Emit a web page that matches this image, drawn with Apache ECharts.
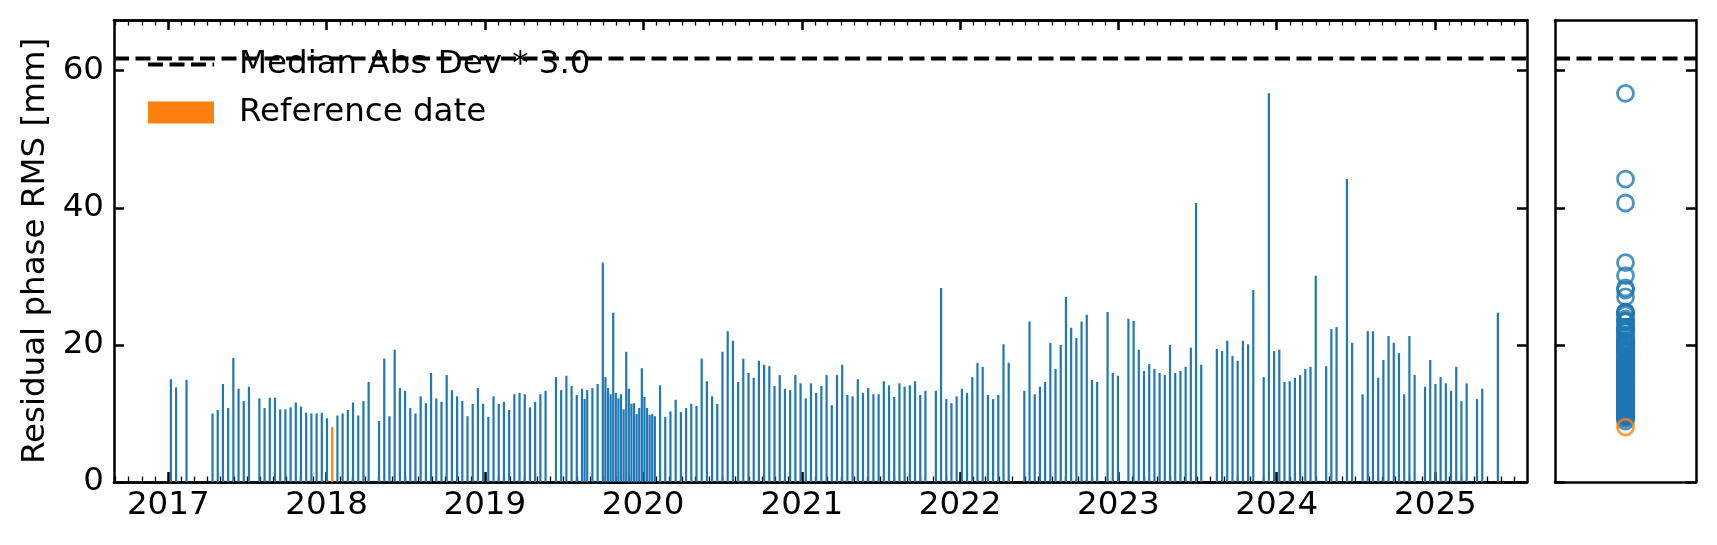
<!DOCTYPE html>
<html>
<head>
<meta charset="utf-8">
<script src="https://cdn.jsdelivr.net/npm/echarts@6/dist/echarts.min.js"></script>
<style>
html,body{margin:0;padding:0;background:#fff;}
#chart{width:1717px;height:545px;}
</style>
</head>
<body>
<div id="chart"></div>
<script>
// Acquisition dates, as days since 2017-01-01
const acqDays = [6,18,42,102,114,126,138,150,162,174,186,210,222,234,246,258,270,282,294,306,318,330,342,354,366,390,402,414,426,438,
450,462,486,498,510,522,534,546,558,570,582,594,606,618,630,642,654,666,678,690,702,714,726,738,750,762,774,786,798,810,822,834,846,858,870,
894,906,918,930,942,954,960,966,978,990,1002,1008,1014,1020,1026,1032,1038,1044,1050,1056,1062,1068,1074,1080,1086,1092,1098,1104,1110,1116,1122,
1134,1146,1158,1170,1182,1194,1206,1218,1230,1242,1254,1266,1278,1290,1302,1314,1326,1338,1350,1362,1374,1386,1398,1410,1422,1434,1446,1458,1470,
1482,1494,1506,1518,1530,1542,1554,1566,1578,1590,1602,1614,1626,1638,1650,1662,1674,1686,1698,1710,1722,1734,1746,1770,1782,1794,1806,1818,1830,
1842,1854,1866,1878,1890,1902,1914,1926,1938,1974,1986,1998,2010,2022,2034,2046,2058,2070,2082,2094,2106,2118,2130,2142,2166,2178,2190,2214,2226,
2238,2250,2262,2274,2286,2298,2310,2322,2334,2346,2358,2370,2382,2418,2430,2442,2454,2466,2478,2490,2502,2526,2538,2550,2562,2574,2586,2598,2610,
2622,2634,2646,2670,2682,2694,2718,2730,2754,2766,2778,2790,2802,2814,2826,2838,2850,2862,2874,2898,2910,2922,2934,2946,2958,2970,2982,2994,3018,
3030,3066];
// Residual phase RMS [mm] for each acquisition
const rmsValues = [15.0,13.8,14.9,10.0,10.5,14.3,10.8,18.1,13.6,11.8,13.9,12.2,10.8,12.3,12.3,10.6,10.6,10.9,11.6,11.0,10.1,10.0,10.0,10.1,9.3,9.7,10.0,10.5,11.6,9.7,
11.8,14.6,8.9,18.0,9.6,19.3,13.7,13.3,10.8,10.0,12.5,11.5,15.9,12.2,11.7,15.6,13.4,12.5,11.8,9.6,11.4,13.7,11.4,9.5,12.5,11.4,11.7,10.5,12.8,13.0,12.8,10.9,11.7,12.8,13.3,
15.3,13.4,15.5,14.0,12.7,13.6,12.1,13.4,13.7,14.3,32.0,15.3,13.7,12.8,24.7,13.0,12.2,12.8,10.6,19.0,13.6,11.4,11.5,9.9,10.8,16.6,12.4,10.8,9.8,9.9,9.6,
14.1,9.5,10.3,12.0,10.2,10.8,11.4,11.1,18.0,14.7,12.5,11.4,19.0,22.0,20.6,14.6,18.0,15.9,15.2,17.7,17.1,16.9,14.0,15.6,13.6,13.4,15.6,14.4,12.2,
14.4,13.0,14.0,15.6,11.2,15.6,17.1,12.7,12.5,15.0,13.0,13.7,12.8,12.8,14.7,14.1,12.4,14.4,13.9,14.1,14.7,12.7,13.3,13.3,28.3,12.1,11.5,12.5,13.6,
13.0,15.3,17.4,16.8,12.7,12.1,12.7,20.1,17.4,13.3,23.4,12.8,13.9,14.6,20.3,16.5,20.0,27.0,22.5,21.0,23.4,24.4,14.9,14.6,24.8,15.9,15.5,23.8,23.5,
19.3,16.2,17.2,16.5,15.9,15.6,20.0,15.9,16.2,16.8,19.6,40.7,17.1,19.4,19.1,20.6,18.4,17.7,20.6,20.1,28.0,15.3,56.7,19.1,19.3,14.6,14.7,15.2,15.6,
16.5,16.8,30.1,16.9,22.3,22.6,44.2,20.3,12.8,22.0,22.0,15.2,17.8,21.3,20.3,18.8,12.8,21.3,15.6,13.9,17.8,14.3,15.3,14.4,13.3,16.8,11.8,14.4,12.1,
13.6,24.7];
// Reference date
const refDay = [378];
const refValue = [8.0];
// Threshold line
const madThreshold = 61.8;
const madLabel = 'Median Abs Dev * 3.0';
const refLabel = 'Reference date';
const yearLabels = [2017,2018,2019,2020,2021,2022,2023,2024,2025];
const yTicks = [0,20,40,60];
const yLabel = 'Residual phase RMS [mm]';

const DAY = 86400000;
const epoch = Date.UTC(2017,0,1);
const ts = d => epoch + d*DAY;
const xMin = ts(-125.2), xMax = ts(3133.2);
const yMax = 67.4;

const yearTicks = yearLabels.map(y => Date.UTC(y,0,1));
const monthTicks = [];
for (let y = 2016; y <= 2025; y++) for (let m = 0; m < 12; m++) {
  const t = Date.UTC(y,m,1);
  if (t > xMin && t < xMax) monthTicks.push(t);
}

const FONT = 'DejaVu Sans';
const FS = 32.5;
const BLUE = '#1f77b4', ORANGE = '#ff7f0e';
const lineW = 2.5;
const dash = {color: '#000', width: 4, type: [15,6.5]};

function xTimeAxis(pos, ticks, len, w, labels) {
  return {
    type: 'value', gridIndex: 0, position: pos, min: xMin, max: xMax, scale: true,
    axisLine: {show: true, onZero: false, lineStyle: {color: '#000', width: lineW}},
    axisTick: {show: true, inside: true, length: len, lineStyle: {color: '#000', width: w}, customValues: ticks},
    axisLabel: labels ? {show: true, customValues: ticks, margin: 7, color: '#000', fontFamily: FONT, fontSize: FS,
      formatter: v => String(new Date(v).getUTCFullYear())} : {show: false},
    splitLine: {show: false}
  };
}
function yValAxis(grid, pos, labels) {
  const a = {
    type: 'value', gridIndex: grid, position: pos, min: 0, max: yMax,
    axisLine: {show: true, onZero: false, lineStyle: {color: '#000', width: lineW}},
    axisTick: {show: true, inside: true, length: 10, lineStyle: {color: '#000', width: 2.5}, customValues: yTicks},
    axisLabel: labels ? {show: true, customValues: yTicks, margin: 10, color: '#000', fontFamily: FONT, fontSize: FS} : {show: false},
    splitLine: {show: false}
  };
  if (labels) {
    a.name = yLabel; a.nameLocation = 'middle'; a.nameGap = 59;
    a.nameTextStyle = {color: '#000', fontFamily: FONT, fontSize: FS};
  }
  return a;
}
function panelX(pos) {
  return {type: 'value', gridIndex: 1, position: pos, min: -1, max: 1,
    axisLine: {show: true, onZero: false, lineStyle: {color: '#000', width: lineW}},
    axisTick: {show: false}, axisLabel: {show: false}, splitLine: {show: false}};
}

const barData = acqDays.map((d,i) => [ts(d), rmsValues[i]]);
const refData = refDay.map((d,i) => [ts(d), refValue[i]]);

const chart = echarts.init(document.getElementById('chart'), null, {renderer: 'canvas'});
chart.setOption({
  animation: false,
  backgroundColor: '#fff',
  textStyle: {fontFamily: FONT},
  grid: [
    {left: 114, top: 20, width: 1413, height: 462, outerBoundsMode: 'none'},
    {left: 1555, top: 20, width: 141, height: 462, outerBoundsMode: 'none'}
  ],
  legend: {
    data: [
      {name: madLabel, itemStyle: {opacity: 0}, lineStyle: dash},
      {name: refLabel, icon: 'rect'}
    ],
    orient: 'vertical', left: 146, top: 48, padding: 0, itemWidth: 66, itemHeight: 22, itemGap: 15,
    textStyle: {color: '#000', fontFamily: FONT, fontSize: FS, lineHeight: 32, padding: [0,0,0,20]},
    selectedMode: false
  },
  xAxis: [
    xTimeAxis('bottom', yearTicks, 10, 2.5, true),
    xTimeAxis('bottom', monthTicks, 5.5, 1.3, false),
    xTimeAxis('top', yearTicks, 10, 2.5, false),
    xTimeAxis('top', monthTicks, 5.5, 1.3, false),
    panelX('bottom'),
    panelX('top')
  ],
  yAxis: [
    yValAxis(0, 'left', true),
    yValAxis(0, 'right', false),
    yValAxis(1, 'left', false),
    yValAxis(1, 'right', false)
  ],
  series: [
    {name: 'RMS', type: 'bar', xAxisIndex: 0, yAxisIndex: 0, data: barData, barWidth: 2.2, barGap: '-100%',
      itemStyle: {color: BLUE}, silent: true},
    {name: refLabel, type: 'bar', xAxisIndex: 0, yAxisIndex: 0, data: refData, barWidth: 2.2, barGap: '-100%',
      itemStyle: {color: ORANGE}, silent: true},
    {name: madLabel, type: 'line', xAxisIndex: 0, yAxisIndex: 0, data: [[xMin, madThreshold],[xMax, madThreshold]],
      symbol: 'none', lineStyle: dash, itemStyle: {color: '#000'}, silent: true, z: 5},
    {name: madLabel, type: 'line', xAxisIndex: 4, yAxisIndex: 2, data: [[-1, madThreshold],[1, madThreshold]],
      symbol: 'none', lineStyle: dash, itemStyle: {color: '#000'}, silent: true, z: 5},
    {name: 'RMS dist', type: 'scatter', xAxisIndex: 4, yAxisIndex: 2, data: rmsValues.map(v => [0, v]),
      symbol: 'circle', symbolSize: 16, itemStyle: {color: 'rgba(0,0,0,0)', borderColor: BLUE, borderWidth: 2.8}, silent: true},
    {name: 'Ref dist', type: 'scatter', xAxisIndex: 4, yAxisIndex: 2, data: refValue.map(v => [0, v]),
      symbol: 'circle', symbolSize: 16, itemStyle: {color: 'rgba(0,0,0,0)', borderColor: ORANGE, borderWidth: 2.8}, silent: true, z: 4}
  ]
});
</script>
</body>
</html>
